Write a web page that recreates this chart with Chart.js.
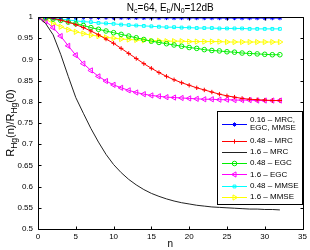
<!DOCTYPE html>
<html>
<head>
<meta charset="utf-8">
<script src="https://cdn.jsdelivr.net/npm/chart.js@4.4.0/dist/chart.umd.min.js"></script>
<style>
  html, body { margin: 0; padding: 0; background: #fff; }
  #wrap { width: 310px; height: 250px; }
</style>
</head>
<body>
<div id="wrap"><canvas id="chart" width="310" height="250"></canvas></div>
<script>
// n (sample lag) and the seven normalised correlation curves
const nValues = [0,1,2,3,4,5,6,7,8,9,10,11,12,13,14,15,16,17,18,19,20,21,22,23,24,25,26,27,28,29,30,31,32];
const blue016 = [1.000,1.000,0.9998,0.9996,0.9994,0.9992,0.999,0.9988,0.9986,0.9985,0.9984,0.9983,0.9982,0.9981,0.998,0.998,0.9979,0.9979,0.9978,0.9978,0.9977,0.9977,0.9977,0.9976,0.9976,0.9976,0.9976,0.9975,0.9975,0.9975,0.9975,0.9975,0.9975];
const red048mrc = [1.000,0.999,0.997,0.993,0.988,0.982,0.975,0.967,0.958,0.948,0.938,0.926,0.914,0.902,0.890,0.879,0.869,0.860,0.852,0.845,0.839,0.833,0.828,0.823,0.818,0.814,0.811,0.808,0.806,0.805,0.804,0.803,0.803];
const black16mrc = [1.000,0.985,0.958,0.912,0.860,0.810,0.773,0.737,0.705,0.676,0.652,0.633,0.617,0.604,0.593,0.584,0.577,0.571,0.566,0.562,0.559,0.556,0.554,0.552,0.551,0.550,0.549,0.548,0.547,0.547,0.546,0.546,0.545];
const green048egc = [1.000,0.998,0.995,0.992,0.988,0.984,0.980,0.975,0.971,0.967,0.963,0.959,0.955,0.951,0.947,0.943,0.940,0.937,0.934,0.931,0.928,0.926,0.923,0.921,0.920,0.918,0.917,0.915,0.914,0.913,0.912,0.911,0.911];
const magenta16egc = [1.000,0.990,0.975,0.955,0.932,0.910,0.890,0.874,0.860,0.849,0.840,0.833,0.827,0.822,0.818,0.815,0.813,0.811,0.810,0.809,0.808,0.807,0.806,0.806,0.805,0.805,0.804,0.804,0.804,0.803,0.803,0.803,0.803];
const cyan048mmse = [1.000,0.999,0.997,0.995,0.993,0.991,0.989,0.988,0.986,0.985,0.984,0.982,0.981,0.980,0.979,0.978,0.977,0.976,0.976,0.975,0.975,0.974,0.974,0.974,0.973,0.973,0.973,0.973,0.972,0.972,0.972,0.972,0.972];
const yellow16mmse = [1.000,0.995,0.985,0.977,0.970,0.965,0.961,0.957,0.955,0.952,0.950,0.948,0.947,0.946,0.945,0.944,0.944,0.943,0.943,0.943,0.942,0.942,0.942,0.942,0.942,0.941,0.941,0.941,0.941,0.941,0.941,0.941,0.941];

const seriesNames = ['0.16 \u2013 MRC,\nEGC, MMSE', '0.48 \u2013 MRC', '1.6 \u2013 MRC', '0.48 \u2013 EGC', '1.6 \u2013 EGC', '0.48 \u2013 MMSE', '1.6 \u2013 MMSE'];
const xTicks = [0,5,10,15,20,25,30,35];
const yTicks = [0.5,0.55,0.6,0.65,0.7,0.75,0.8,0.85,0.9,0.95,1];

const FONT = "'Liberation Sans', Arial, Helvetica, sans-serif";

function pts(arr) {
    return nValues.map((n, i) => ({ x: n, y: arr[i] }));
}

function ds(label, arr, color, style, radius, rotation, fillPt) {
    return {
        label: label,
        data: pts(arr),
        borderColor: color,
        borderWidth: 1,
        pointStyle: style,
        pointRadius: radius,
        pointRotation: rotation,
        pointBorderColor: color,
        pointBackgroundColor: fillPt ? color : 'rgba(0,0,0,0)',
        pointBorderWidth: 1,
        tension: 0,
        fill: false
    };
}

const datasets = [
    ds(seriesNames[0], blue016, '#0000ff', 'star', 2.2, 0, false),
    ds(seriesNames[1], red048mrc, '#ff0000', 'cross', 2.2, 0, false),
    ds(seriesNames[2], black16mrc, '#222222', 'circle', 0, 0, false),
    ds(seriesNames[3], green048egc, '#00ee00', 'circle', 2.3, 0, false),
    ds(seriesNames[4], magenta16egc, '#ff00ff', 'triangle', 3, -90, false),
    ds(seriesNames[5], cyan048mmse, '#00ffff', 'rect', 2, 0, false),
    ds(seriesNames[6], yellow16mmse, '#ffff00', 'triangle', 3, 90, false)
];

// text with _subscripts: parts = [[text, isSub], ...]
function richWidth(ctx, parts, size, subSize) {
    let w = 0;
    parts.forEach(p => {
        ctx.font = (p[1] ? subSize : size) + 'px ' + FONT;
        w += ctx.measureText(p[0]).width;
    });
    return w;
}
function drawRich(ctx, parts, cx, cy, size, subSize) {
    let x = cx - richWidth(ctx, parts, size, subSize) / 2;
    ctx.textAlign = 'left';
    ctx.textBaseline = 'middle';
    parts.forEach(p => {
        ctx.font = (p[1] ? subSize : size) + 'px ' + FONT;
        ctx.fillText(p[0], x, cy + (p[1] ? size * 0.35 : 0));
        x += ctx.measureText(p[0]).width;
    });
}

const decor = {
    id: 'decor',
    afterDraw(chart) {
        const ctx = chart.ctx;
        const a = chart.chartArea;
        const xs = chart.scales.x, ys = chart.scales.y;
        ctx.save();
        ctx.strokeStyle = '#000';
        ctx.fillStyle = '#000';
        ctx.lineWidth = 1;

        // axes box
        const L = Math.round(a.left) + 0.5, R = Math.round(a.right) + 0.5;
        const T = Math.round(a.top) + 0.5, B = Math.round(a.bottom) + 0.5;
        ctx.beginPath();
        ctx.rect(L, T, R - L, B - T);
        ctx.stroke();

        // inward ticks on all four sides
        ctx.beginPath();
        xTicks.forEach(v => {
            const px = Math.round(xs.getPixelForValue(v)) + 0.5;
            ctx.moveTo(px, B); ctx.lineTo(px, B - 3);
            ctx.moveTo(px, T); ctx.lineTo(px, T + 3);
        });
        yTicks.forEach(v => {
            const py = Math.round(ys.getPixelForValue(v)) + 0.5;
            ctx.moveTo(L, py); ctx.lineTo(L + 3, py);
            ctx.moveTo(R, py); ctx.lineTo(R - 3, py);
        });
        ctx.stroke();

        // title
        drawRich(ctx, [['N', 0], ['c', 1], ['=64, E', 0], ['b', 1], ['/N', 0], ['0', 1], ['=12dB', 0]],
            (a.left + a.right) / 2, 8, 10, 7);

        // x label
        ctx.font = '10px ' + FONT;
        ctx.textAlign = 'center';
        ctx.textBaseline = 'middle';
        ctx.fillText('n', (a.left + a.right) / 2, 244);

        // y label
        ctx.save();
        ctx.translate(11, (a.top + a.bottom) / 2);
        ctx.rotate(-Math.PI / 2);
        drawRich(ctx, [['R', 0], ['Hg', 1], ['(n)/R', 0], ['Hg', 1], ['(0)', 0]], 0, 0, 11, 8.5);
        ctx.restore();

        // legend box
        const bx = 217, by = 111, bw = 85, bh = 93;
        ctx.fillStyle = '#fff';
        ctx.fillRect(bx, by, bw, bh);
        ctx.strokeStyle = '#000';
        ctx.strokeRect(bx + 0.5, by + 0.5, bw, bh);

        const rowStep = 11.3;
        let cy = by + 12.6;
        chart.data.datasets.forEach((d, i) => {
            const lines = d.label.split('\n');
            ctx.strokeStyle = d.borderColor;
            ctx.lineWidth = 1;
            ctx.beginPath();
            ctx.moveTo(222, Math.round(cy) + 0.5);
            ctx.lineTo(247, Math.round(cy) + 0.5);
            ctx.stroke();
            if (d.pointRadius > 0) {
                ctx.fillStyle = d.pointBackgroundColor;
                Chart.helpers.drawPoint(ctx, {
                    pointStyle: d.pointStyle,
                    radius: d.pointRadius,
                    rotation: d.pointRotation,
                    borderWidth: 1
                }, 234.5, Math.round(cy) + 0.5);
            }
            ctx.fillStyle = '#000';
            ctx.font = '8px ' + FONT;
            ctx.textAlign = 'left';
            ctx.textBaseline = 'middle';
            lines.forEach((t, k) => {
                ctx.fillText(t, 250, cy + (k - (lines.length - 1) / 2) * 8.4);
            });
            const next = chart.data.datasets[i + 1];
            if (next) {
                const nl = next.label.split('\n').length;
                cy += rowStep * (lines.length + nl) / 2;
            }
        });
        ctx.restore();
    }
};

new Chart(document.getElementById('chart'), {
    type: 'line',
    data: { datasets: datasets },
    options: {
        responsive: false,
        animation: false,
        layout: { padding: { left: 0, right: 7, top: 17, bottom: 0 } },
        plugins: { legend: { display: false }, tooltip: { enabled: false } },
        scales: {
            x: {
                type: 'linear',
                min: 0, max: 35,
                afterFit: s => { s.height = 21; },
                afterBuildTicks: s => { s.ticks = xTicks.map(v => ({ value: v })); },
                grid: { display: false, drawTicks: false },
                border: { display: false },
                ticks: { color: '#000', font: { size: 8, family: FONT }, padding: 3, maxRotation: 0 }
            },
            y: {
                min: 0.5, max: 1,
                afterFit: s => { s.width = 38; },
                afterBuildTicks: s => { s.ticks = yTicks.map(v => ({ value: v })); },
                grid: { display: false, drawTicks: false },
                border: { display: false },
                ticks: {
                    color: '#000', font: { size: 8, family: FONT }, padding: 5,
                    callback: v => String(Number(v.toFixed(2)))
                }
            }
        }
    },
    plugins: [decor]
});
</script>
</body>
</html>
